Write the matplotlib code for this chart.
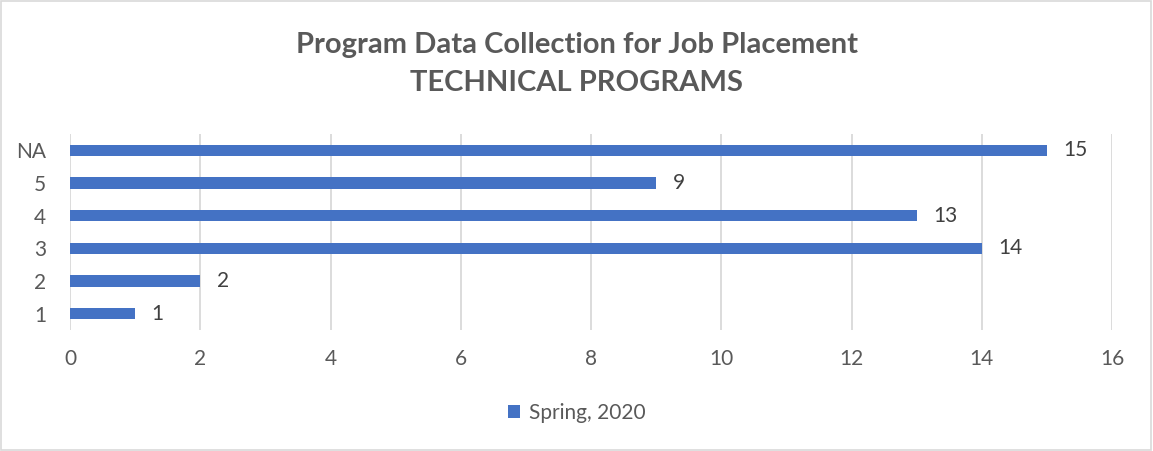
import matplotlib.pyplot as plt

# Data
categories = ['1', '2', '3', '4', '5', 'NA']
values = [1, 2, 14, 13, 9, 15]
series_name = 'Spring, 2020'
xticks = [0, 2, 4, 6, 8, 10, 12, 14, 16]

plt.rcParams['font.family'] = ['Lato', 'DejaVu Sans']
text_color = '#595959'
bar_color = '#4472C4'
fs = 15

fig = plt.figure(figsize=(11.53, 4.51), dpi=100)
ax = fig.add_axes([70 / 1153, 1 - 330 / 451, (1112 - 70) / 1153, 196 / 451])

pos = range(len(categories))
ax.barh(pos, values, height=0.34, color=bar_color, label=series_name, zorder=3)
for p, v in zip(pos, values):
    ax.text(v + 0.25, p, str(v), va='center', ha='left', fontsize=fs, color='#404040')

ax.set_xlim(0, 16)
ax.set_ylim(-0.5, 5.5)
ax.set_xticks(xticks)
ax.set_yticks(list(pos))
ax.set_yticklabels(categories)
ax.tick_params(axis='both', length=0, labelsize=fs, colors=text_color)
ax.tick_params(axis='x', pad=14)
ax.tick_params(axis='y', pad=17)
ax.grid(True, axis='x', color='#D9D9D9', linewidth=1.3, zorder=0)
for s in ax.spines.values():
    s.set_visible(False)

fig.text(0.5, 1 - 45 / 451, 'Program Data Collection for Job Placement', ha='center', va='center',
         fontsize=21, fontweight='bold', color=text_color)
fig.text(0.5, 1 - 83 / 451, 'TECHNICAL PROGRAMS', ha='center', va='center',
         fontsize=21, fontweight='bold', color=text_color)

fig.legend(loc='center', bbox_to_anchor=(0.5, 1 - 413 / 451), frameon=False, fontsize=fs,
           handlelength=0.6, handleheight=0.6, handletextpad=0.4, labelcolor=text_color)

# outer frame
fig.patches.append(plt.Rectangle((0.001, 0.002), 0.997, 0.996, transform=fig.transFigure,
                                 fill=False, edgecolor='#D9D9D9', linewidth=1.2))

fig.savefig('out.png', dpi=100)
